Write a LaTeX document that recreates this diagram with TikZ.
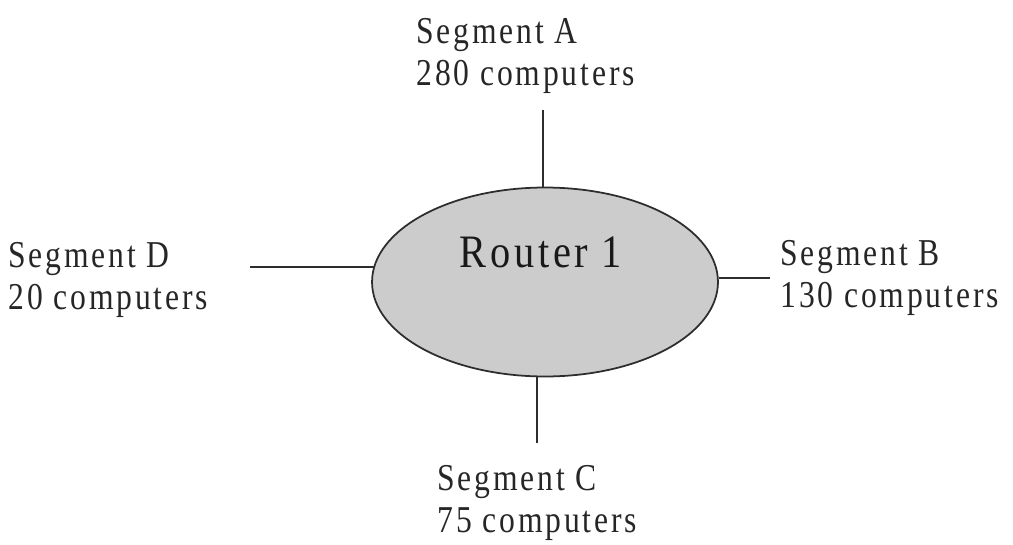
\documentclass[tikz,border=0pt]{standalone}
\usepackage{fontspec}
\setmainfont{Liberation Serif}
\newfontfamily\wideserif[LetterSpace=9]{Liberation Serif}
\usetikzlibrary{positioning,shapes.geometric}
\definecolor{rtfill}{RGB}{204,204,204}
\definecolor{rtline}{RGB}{45,45,45}
\newcommand{\seglines}[2]{\scalebox{1}[1.2]{\begin{tabular}{@{}l@{}}#1\\#2\end{tabular}}}
\tikzset{
  seglbl/.style={font=\wideserif\fontsize{18}{20}\selectfont, text=black!85, inner sep=0pt, anchor=north west},
  rtbox/.style={ellipse, draw=rtline, fill=rtfill, line width=1pt,
    minimum width=6.92cm, minimum height=3.78cm, inner sep=0pt},
  segln/.style={draw=rtline, line width=1pt},
}
\begin{document}
\begin{tikzpicture}[x=0.02cm, y=-0.02cm]
    \useasboundingbox (0,0) rectangle (1013,544);

    \node[rtbox] (router) at (545,282) {};
    \node[font=\wideserif\fontsize{23}{27}\selectfont, text=black!90, inner sep=0pt] (rlbl) at (541,252)
      {\scalebox{1}[1.15]{Router 1}};

    % segment labels
    \node[seglbl] (sega) at (416,13.5) {\seglines{Segment A}{280 computers}};
    \node[seglbl] (segd) at (8,237.5) {\seglines{Segment D}{20 computers}};
    \node[seglbl] (segb) at (780,235.5) {\seglines{Segment B}{130 computers}};
    \node[seglbl] (segc) at (437,460.5) {\seglines{Segment C}{75 computers}};

    % free line ends
    \coordinate (aend) at (543,110);
    \coordinate (dend) at (250,267);
    \coordinate (bend) at (770,278);
    \coordinate (cend) at (537,443);

    \draw[segln] (aend) -- (aend |- router.north);
    \draw[segln] (dend) -- ([xshift=2pt]router.west |- dend);
    \draw[segln] (bend) -- (router.east |- bend);
    \draw[segln] (cend) -- (cend |- router.south);
  \end{tikzpicture}
\end{document}
